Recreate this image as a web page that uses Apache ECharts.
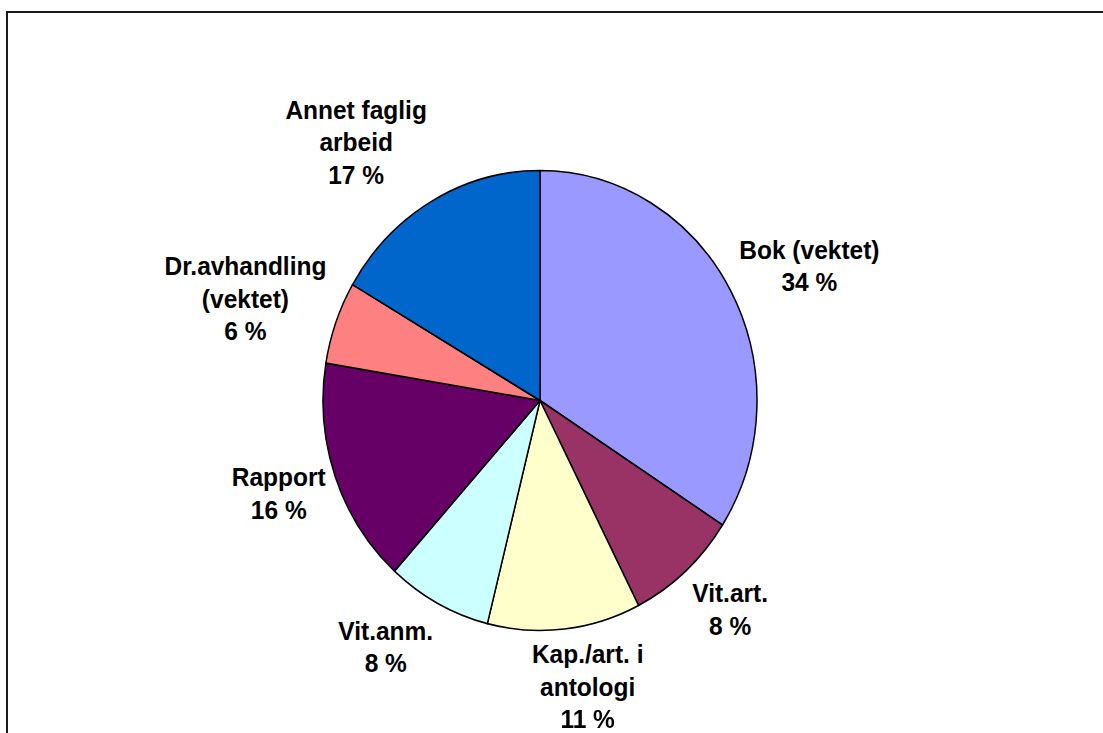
<!DOCTYPE html>
<html>
<head>
<meta charset="utf-8">
<script src="https://cdn.jsdelivr.net/npm/echarts@6/dist/echarts.min.js"></script>
<style>
  html, body { margin: 0; padding: 0; background: #fff; overflow: hidden; }
  #wrap { position: absolute; left: 0; top: 0; width: 1103px; height: 733px; overflow: hidden; }
  #chart { position: absolute; left: 0; top: 0; width: 1103px; transform-origin: 0 0; }
</style>
</head>
<body>
<div id="wrap"><div id="chart"></div></div>
<script>
// ---- data ----
const categories = ['Bok (vektet)', 'Vit.art.', 'Kap./art. i\nantologi', 'Vit.anm.', 'Rapport', 'Dr.avhandling\n(vektet)', 'Annet faglig\narbeid'];
const values = [34.1, 8.4, 11.4, 7.8, 15.9, 5.8, 16.6];
const colors = ['#9999FF', '#993366', '#FFFFCC', '#CCFFFF', '#660066', '#FF8080', '#0066CC'];

// ---- layout constants ----
const SY = 230 / 217;               // vertical stretch of the original picture
const W = 1103, H = 733 / SY;
const CX = 540, CY = 400.5 / SY, R = 217;
const GAP_X = 10, GAP_Y = 22, KX = 3.5, KY = 1.25, LINE_H = 30.7, FONT = 24.5;

const el = document.getElementById('chart');
el.style.height = H + 'px';
el.style.transform = 'scaleY(' + SY + ')';

const total = values.reduce((a, b) => a + b, 0);
const cum = [0];
values.forEach((v, i) => cum.push(cum[i] + v / total));
const clamp = v => Math.max(-1, Math.min(1, v));

const chart = echarts.init(el, null, { renderer: 'svg', width: W, height: H });
chart.setOption({
  animation: false,
  backgroundColor: '#fff',
  graphic: [{
    type: 'rect',
    shape: { x: 7, y: 12 / SY, width: 1400, height: 1000 },
    style: { fill: 'none', stroke: '#1a1a1a', lineWidth: 2 },
    silent: true
  }],
  series: [{
    type: 'pie',
    center: [CX, CY],
    radius: R,
    startAngle: 90,
    clockwise: true,
    silent: true,
    avoidLabelOverlap: false,
    data: categories.map((c, i) => ({ name: c, value: values[i], itemStyle: { color: colors[i] } })),
    itemStyle: { borderColor: '#000', borderWidth: 1.5 },
    labelLine: { show: false, length: 5, length2: 5 },
    label: {
      show: true,
      position: 'outside',
      formatter: function (p) {
        const lines = String(p.name).split('\n').concat([Math.round(p.percent) + ' %']);
        return lines.map(l => '{t|' + l + '}').join('\n');
      },
      rich: {
        t: {
          fontFamily: 'Liberation Sans, Arial, sans-serif',
          fontWeight: 'bold',
          fontSize: FONT,
          lineHeight: LINE_H,
          color: '#000',
          align: 'center'
        }
      }
    },
    labelLayout: function (p) {
      const i = p.dataIndex;
      const mid = (cum[i] + cum[i + 1]) / 2 * Math.PI * 2;
      const ux = Math.sin(mid), uy = -Math.cos(mid);
      const hw = p.labelRect.width / 2;
      const hh = p.labelRect.height / 2 - (LINE_H - FONT * 0.716) / 2;
      const px = CX + (R + GAP_X) * ux, py = CY + (R + GAP_Y) * uy;
      let y = py + hh * clamp(uy * KY);
      // keep the whole text block inside the picture
      const maxY = H - 0.5 - p.labelRect.height / 2;
      if (y > maxY) y = maxY;
      return {
        x: px + hw * clamp(ux * KX),
        y: y,
        align: 'center',
        verticalAlign: 'middle'
      };
    }
  }]
});
</script>
</body>
</html>
